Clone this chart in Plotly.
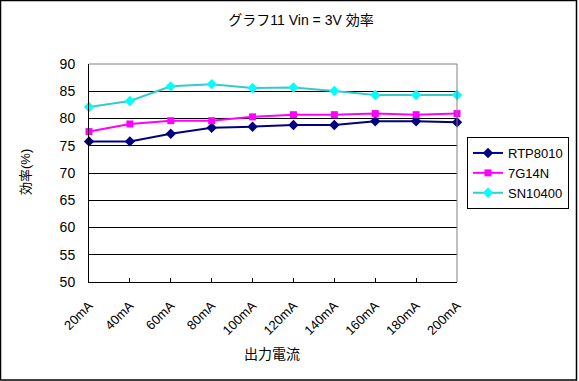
import plotly.graph_objects as go

categories = ["20mA", "40mA", "60mA", "80mA", "100mA", "120mA", "140mA", "160mA", "180mA", "200mA"]
rtp8010 = [75.8, 75.8, 77.2, 78.3, 78.5, 78.8, 78.8, 79.5, 79.5, 79.3]
g7g14n = [77.6, 79.0, 79.6, 79.6, 80.3, 80.7, 80.7, 80.9, 80.7, 80.9]
sn10400 = [82.1, 83.2, 85.9, 86.3, 85.6, 85.7, 85.05, 84.3, 84.3, 84.3]
y_ticks = [50, 55, 60, 65, 70, 75, 80, 85, 90]

FONT = "Liberation Sans, Arial, Noto Sans CJK JP"

fig = go.Figure()
fig.add_trace(go.Scatter(x=categories, y=rtp8010, name="RTP8010", mode="lines+markers",
                         line=dict(color="#000080", width=2),
                         marker=dict(symbol="diamond", size=8, color="#000080"),
                         cliponaxis=False))
fig.add_trace(go.Scatter(x=categories, y=g7g14n, name="7G14N", mode="lines+markers",
                         line=dict(color="#FF00FF", width=2),
                         marker=dict(symbol="square", size=7, color="#FF00FF"),
                         cliponaxis=False))
fig.add_trace(go.Scatter(x=categories, y=sn10400, name="SN10400", mode="lines+markers",
                         line=dict(color="#33CCCC", width=2),
                         marker=dict(symbol="diamond", size=8, color="#00FFFF"),
                         cliponaxis=False))

L, R, T, B = 89, 122, 64, 99
W, H = 579, 381
pw, ph = W - L - R, H - T - B

fig.update_layout(
    width=W, height=H,
    margin=dict(l=L, r=R, t=T, b=B, autoexpand=False),
    paper_bgcolor="white", plot_bgcolor="white",
    font=dict(family=FONT, size=13, color="black"),
    title=dict(text="グラフ11 Vin = 3V 効率", x=301 / W, xanchor="center",
               y=1 - 20 / H, yanchor="middle", font=dict(size=14)),
    xaxis=dict(type="category", range=[0, 9], showgrid=False,
               showline=True, linecolor="black", linewidth=1, mirror=False,
               ticks="inside", ticklen=4, tickcolor="black", tickangle=-45,
               ticklabelstandoff=10, tickfont=dict(size=13)),
    yaxis=dict(range=[50, 90], tickvals=y_ticks, showgrid=True, gridcolor="black",
               gridwidth=1, showline=True, linecolor="black", linewidth=1,
               ticks="", ticklabelstandoff=10, tickfont=dict(size=14), zeroline=False),
    legend=dict(x=(467 - L) / pw, xanchor="left", y=(H - B - 137) / ph, yanchor="top",
                bordercolor="black", borderwidth=1, bgcolor="white",
                font=dict(size=13), tracegroupgap=0, itemwidth=30),
    showlegend=True,
)

# gray top/right border of plot area
fig.add_shape(type="line", xref="paper", yref="paper", x0=0, x1=1, y0=1, y1=1,
              line=dict(color="#808080", width=1))
fig.add_shape(type="line", xref="paper", yref="paper", x0=1, x1=1, y0=0, y1=1,
              line=dict(color="#808080", width=1))
# outer chart frame
fig.add_shape(type="rect", xref="paper", yref="paper",
              x0=(0.5 - L) / pw, x1=(576.5 - L) / pw,
              y0=(H - B - 380) / ph, y1=(H - B - 0.5) / ph,
              line=dict(color="black", width=1.5))

fig.add_annotation(text="効率(%)", xref="paper", yref="paper",
                   x=(25 - L) / pw, y=(H - B - 172) / ph, textangle=-90,
                   showarrow=False, font=dict(size=13), xanchor="center", yanchor="middle")
fig.add_annotation(text="出力電流", xref="paper", yref="paper",
                   x=(272 - L) / pw, y=(H - B - 354) / ph,
                   showarrow=False, font=dict(size=14), xanchor="center", yanchor="middle")

fig.write_html("out.html", config={"displayModeBar": False},
               post_script="document.body.style.margin='0';document.body.style.overflow='hidden';")
